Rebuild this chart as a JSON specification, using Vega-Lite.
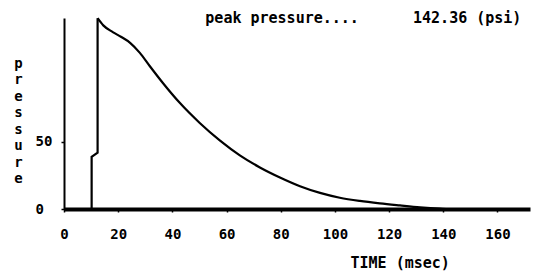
{
  "$schema": "https://vega.github.io/schema/vega-lite/v6.json",
  "width": 466,
  "height": 191,
  "autosize": "none",
  "padding": {"left": 64, "top": 18, "right": 7, "bottom": 70},
  "background": "white",
  "config": {
    "view": {"stroke": null},
    "font": "DejaVu Sans Mono",
    "axis": {"grid": false, "domainColor": "black", "tickColor": "black", "labelColor": "black", "titleColor": "black", "labelFont": "DejaVu Sans Mono", "titleFont": "DejaVu Sans Mono", "labelFontWeight": "bold", "titleFontWeight": "bold"}
  },
  "title": {
    "text": "peak pressure....\u00a0\u00a0\u00a0\u00a0\u00a0\u00a0142.36 (psi)",
    "anchor": "end",
    "font": "DejaVu Sans Mono",
    "fontWeight": "bold",
    "fontSize": 15,
    "color": "black",
    "baseline": "middle",
    "offset": -19,
    "dx": -13
  },
  "data": {
    "values": [
      {"seg": "rise", "t": 0, "p": 0},
      {"seg": "rise", "t": 10.2, "p": 0},
      {"seg": "rise", "t": 10.2, "p": 39},
      {"seg": "rise", "t": 12.4, "p": 42},
      {"seg": "rise", "t": 12.4, "p": 142.36},
      {"seg": "decay", "t": 12.4, "p": 142.36},
      {"seg": "decay", "t": 14.5, "p": 137},
      {"seg": "decay", "t": 18, "p": 132},
      {"seg": "decay", "t": 21, "p": 128.5},
      {"seg": "decay", "t": 24.4, "p": 124},
      {"seg": "decay", "t": 28, "p": 116.5},
      {"seg": "decay", "t": 31.7, "p": 106.5},
      {"seg": "decay", "t": 36.5, "p": 94},
      {"seg": "decay", "t": 42.8, "p": 79},
      {"seg": "decay", "t": 50.2, "p": 64},
      {"seg": "decay", "t": 57.6, "p": 51},
      {"seg": "decay", "t": 64.9, "p": 40},
      {"seg": "decay", "t": 72.3, "p": 31},
      {"seg": "decay", "t": 79.7, "p": 23.5},
      {"seg": "decay", "t": 87.1, "p": 17},
      {"seg": "decay", "t": 94.5, "p": 12},
      {"seg": "decay", "t": 101.8, "p": 8.4},
      {"seg": "decay", "t": 109.2, "p": 6},
      {"seg": "decay", "t": 116.6, "p": 4.2},
      {"seg": "decay", "t": 124, "p": 2.7},
      {"seg": "decay", "t": 131.4, "p": 1.3},
      {"seg": "decay", "t": 138.7, "p": 0.3},
      {"seg": "decay", "t": 142, "p": 0},
      {"seg": "decay", "t": 172, "p": 0}
    ]
  },
  "encoding": {
    "x": {
      "field": "t", "type": "quantitative",
      "scale": {"domain": [0, 172], "nice": false, "zero": false},
      "axis": {
        "values": [0, 20, 40, 60, 80, 100, 120, 140, 160],
        "title": "TIME (msec)",
        "titleFontSize": 15,
        "titleAnchor": "start",
        "titleX": 286,
        "titleY": 46,
        "labelFontSize": 14,
        "labelPadding": 15,
        "tickSize": 3,
        "tickWidth": 1.5,
        "domainWidth": 4,
        "labelFlush": false
      }
    },
    "y": {
      "field": "p", "type": "quantitative",
      "scale": {"domain": [0, 142.5], "nice": false},
      "axis": {
        "values": [0, 50],
        "title": ["p", "r", "e", "s", "s", "u", "r", "e"],
        "titleAngle": 0,
        "titleFontSize": 14,
        "titleLineHeight": 16.5,
        "titleAlign": "center",
        "titleBaseline": "top",
        "titleX": -46,
        "titleY": 38,
        "labelFontSize": 14,
        "labelAlign": "left",
        "labelPadding": 26,
        "tickSize": 3,
        "tickWidth": 1.5,
        "domainWidth": 2,
        "labelFlush": false
      }
    }
  },
  "layer": [
    {
      "transform": [{"filter": "datum.seg === 'rise'"}],
      "mark": {"type": "line", "color": "black", "strokeWidth": 2.2, "interpolate": "linear"}
    },
    {
      "transform": [{"filter": "datum.seg === 'decay'"}],
      "mark": {"type": "line", "color": "black", "strokeWidth": 2.2, "interpolate": "monotone"}
    }
  ]
}
